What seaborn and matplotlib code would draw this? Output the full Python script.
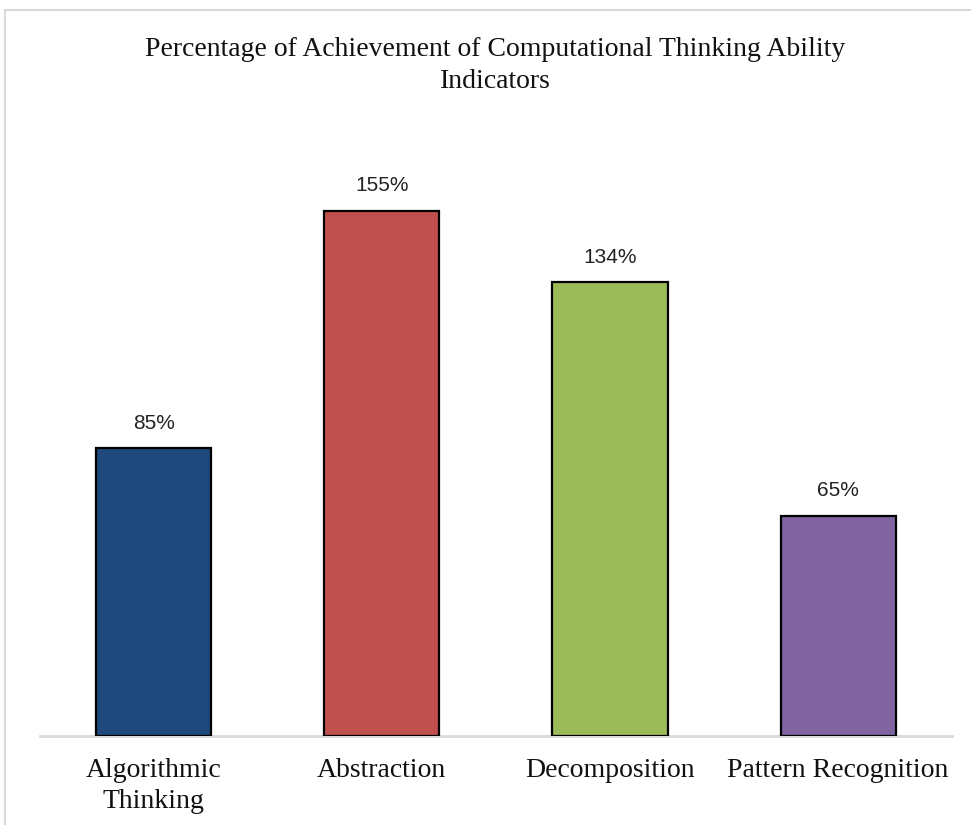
import matplotlib
matplotlib.use("Agg")
import matplotlib.pyplot as plt
import matplotlib.patches as mpatches
import seaborn as sns
import pandas as pd

## Data
categories = ["Algorithmic\nThinking", "Abstraction", "Decomposition", "Pattern Recognition"]
values = [85, 155, 134, 65]
bar_colors = ["#1F497D", "#C0504D", "#9BBB59", "#8064A2"]

df = pd.DataFrame({"indicator": categories, "pct": values})

sns.set_style("white")
plt.rcParams["font.family"] = ["Liberation Serif", "DejaVu Serif"]

fig = plt.figure(figsize=(9.71, 8.25), dpi=100)
ax = fig.add_axes([0.0407, 0.1079, 0.940, 0.7394])

sns.barplot(data=df, x="indicator", y="pct", hue="indicator",
            palette=bar_colors, legend=False, width=0.505,
            edgecolor="black", linewidth=1.6, saturation=1, ax=ax)

ax.set_xlim(-0.5, 3.5)
ax.set_ylim(0, 180)

## value labels above bars
for i, v in enumerate(values):
    ax.annotate("{0}%".format(v), (i, v), xytext=(0, 11), textcoords="offset points",
                ha="center", va="bottom", fontsize=15,
                family=["Liberation Sans", "DejaVu Sans"], color="#222222")

ax.set_xlabel("")
ax.set_ylabel("")
ax.set_yticks([])
ax.tick_params(axis="x", length=0, pad=16, labelsize=20, colors="#111111")
for lab in ax.get_xticklabels():
    lab.set_linespacing(1.3)

for s in ["top", "right", "left"]:
    ax.spines[s].set_visible(False)
ax.spines["bottom"].set_color("#d9d9d9")
ax.spines["bottom"].set_linewidth(2)
ax.spines["bottom"].set_zorder(0)

fig.text(0.51, 0.921, "Percentage of Achievement of Computational Thinking Ability\nIndicators",
         ha="center", va="center", fontsize=20, linespacing=1.35, color="#111111")

## outer chart frame (cut off at right and bottom in the reference)
frame = mpatches.Rectangle((5 / 971, -0.2), 1.2, 1.2 - 10 / 825,
                           transform=fig.transFigure, fill=False,
                           edgecolor="#d9d9d9", linewidth=1.5, clip_on=False)
fig.patches.append(frame)

fig.savefig("out.png", dpi=100)
